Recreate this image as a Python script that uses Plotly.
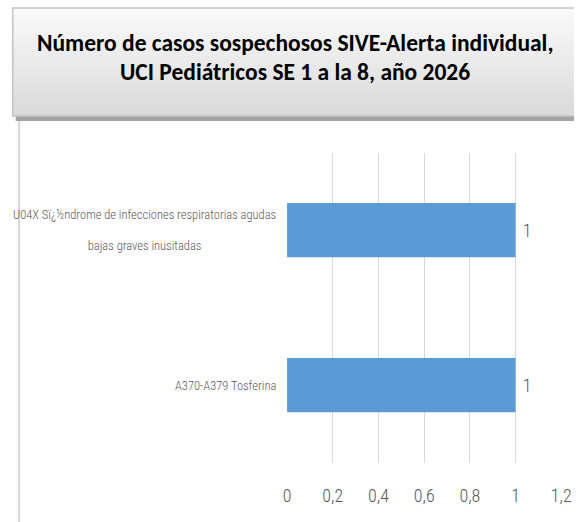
import plotly.graph_objects as go

# ---- data ----
categories = [
    "U04X Sï¿½ndrome de infecciones respiratorias agudas<br>bajas graves inusitadas",
    "A370-A379 Tosferina",
]
values = [1, 1]
x_ticks = [0, 0.2, 0.4, 0.6, 0.8, 1, 1.2]
x_tick_labels = ["0", "0,2", "0,4", "0,6", "0,8", "1", "1,2"]
title_lines = [
    "Número de casos sospechosos SIVE-Alerta individual,",
    "UCI Pediátricos SE 1 a la 8, año 2026",
]

W, H = 584, 522
def px(x):
    return x / W
def py(y):
    return 1 - y / H

LABEL_FONT = "Roboto Condensed, Liberation Sans Narrow, sans-serif"
TITLE_FONT = "Carlito, Calibri, Lato, sans-serif"
GREY_TXT = "#595959"

fig = go.Figure()
fig.add_trace(go.Bar(
    y=categories, x=values, orientation="h",
    marker=dict(color="#5B9BD5", line=dict(width=0)),
    width=0.35,
    texttemplate="\u00a0%{x}", textposition="outside",
    textfont=dict(family=LABEL_FONT, size=18, color=GREY_TXT, weight=300),
    cliponaxis=False, hoverinfo="skip",
))

shapes = []
# title box gradient (strips)
top, bot = 8, 116
n = 36
c0, c1 = 250, 218
for i in range(n):
    y0 = top + (bot - top) * i / n
    y1 = top + (bot - top) * (i + 1) / n + 0.5
    c = round(c0 + (c1 - c0) * i / (n - 1))
    shapes.append(dict(type="rect", xref="paper", yref="paper",
                       x0=px(9), x1=1, y0=py(y1), y1=py(y0),
                       fillcolor=f"rgb({c},{c},{c})", line=dict(width=0), layer="below"))
# shadow
shapes.append(dict(type="rect", xref="paper", yref="paper",
                   x0=px(12), x1=1, y0=py(121), y1=py(116),
                   fillcolor="#a3a3a3", line=dict(width=0), layer="below"))
# box border (left, top, bottom edges)
shapes.append(dict(type="path", xref="paper", yref="paper",
                   path=f"M 1,{py(8)} L {px(9)},{py(8)} L {px(9)},{py(116)} L 1,{py(116)}",
                   line=dict(color="#c4c4c4", width=1.5), layer="below"))
# chart frame left border
shapes.append(dict(type="line", xref="paper", yref="paper",
                   x0=px(15.5), x1=px(15.5), y0=py(121), y1=0,
                   line=dict(color="#d9d9d9", width=2), layer="below"))

annotations = []
for i, line in enumerate(title_lines):
    annotations.append(dict(text=f"<b>{line}</b>", xref="paper", yref="paper",
                            x=px(298), y=py([43, 72][i]), xanchor="center", yanchor="middle",
                            showarrow=False,
                            font=dict(family=TITLE_FONT, size=23.5, color="#000000")))
for cat in categories:
    styled = "<br>".join(f"<span style='font-size:12.5px'>{part}</span>" for part in cat.split("<br>"))
    annotations.append(dict(text=styled, xref="paper", yref="y", x=px(281), y=cat,
                            xanchor="right", yanchor="middle", align="center",
                            showarrow=False,
                            font=dict(family=LABEL_FONT, size=24, color=GREY_TXT, weight=300)))

fig.update_layout(
    width=W, height=H,
    margin=dict(l=0, r=0, t=0, b=0),
    paper_bgcolor="white", plot_bgcolor="white",
    showlegend=False,
    shapes=shapes, annotations=annotations,
    xaxis=dict(domain=[px(290), px(571)], range=[0, 1.2],
               tickvals=x_ticks, ticktext=x_tick_labels,
               showgrid=True, gridcolor="#d9d9d9", gridwidth=1.3,
               zeroline=False, showline=False, ticks="",
               ticklabelstandoff=20,
               tickfont=dict(family=LABEL_FONT, size=18, color=GREY_TXT, weight=300),
               fixedrange=True),
    yaxis=dict(domain=[py(462.5), py(152.5)], autorange="reversed",
               showticklabels=False, showgrid=False, zeroline=False,
               showline=False, ticks="", fixedrange=True),
)

fig.write_html("out.html", config={"displayModeBar": False},
               post_script="document.body.style.margin='0';document.body.style.overflow='hidden';")
